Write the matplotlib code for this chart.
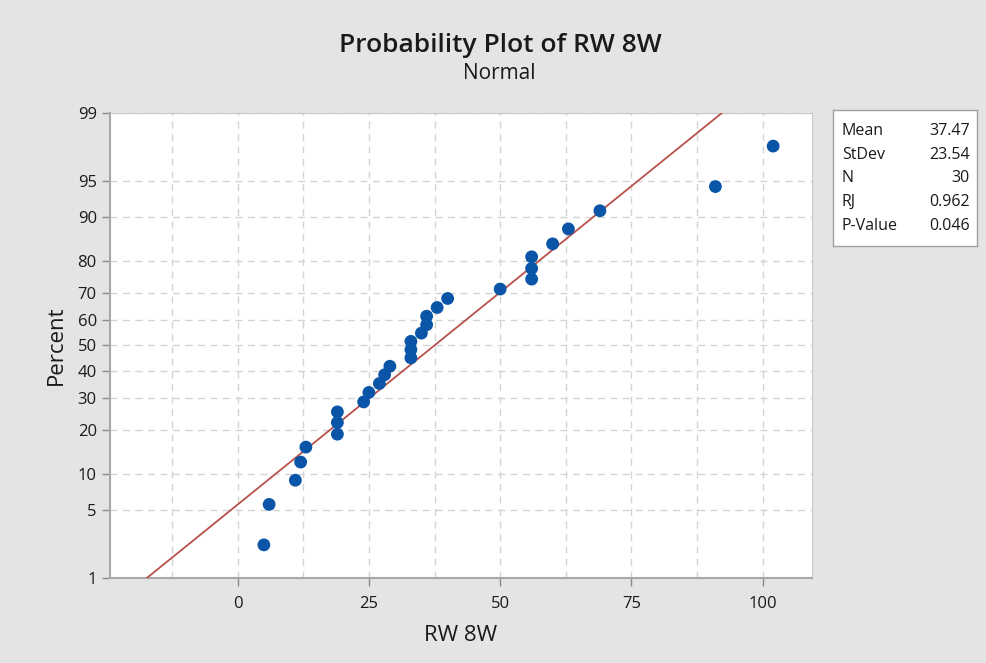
import numpy as np
import matplotlib
matplotlib.use("Agg")
import matplotlib.pyplot as plt
from statistics import NormalDist

rw_8w = [5, 6, 11, 12, 13, 19, 19, 19, 24, 25, 27, 28, 29, 33, 33, 33,
         35, 36, 36, 38, 40, 50, 56, 56, 56, 60, 63, 69, 91, 102]
stat_names = ["Mean", "StDev", "N", "RJ", "P-Value"]
stat_values = ["37.47", "23.54", "30", "0.962", "0.046"]
mean_fit = 37.47
sd_fit = 23.54
pct_ticks = [1, 5, 10, 20, 30, 40, 50, 60, 70, 80, 90, 95, 99]
x_ticks = [0, 25, 50, 75, 100]

nd = NormalDist()
z = lambda p: nd.inv_cdf(p / 100.0)

plt.rcParams["font.family"] = ["Open Sans", "DejaVu Sans"]
bg = "#e4e4e4"
txt = "#1a1a1a"
fig = plt.figure(figsize=(9.87, 6.63), dpi=100, facecolor=bg)
ax = fig.add_axes([0.1115, 0.1282, 0.7112, 0.7014])
ax.set_facecolor("white")

# Benard median ranks, as in Minitab
x = np.sort(np.array(rw_8w, dtype=float))
n = len(x)
ranks = [(i - 0.3) / (n + 0.4) * 100 for i in range(1, n + 1)]
zy = [z(p) for p in ranks]

# fitted normal line
zl = [z(1), z(99)]
xl = [mean_fit + sd_fit * v for v in zl]
ax.plot(xl, zl, color="#b9514b", lw=1.3, zorder=3)

ax.scatter(x, zy, s=85, color="#0a55a8", zorder=4, edgecolors="none")

ax.set_xlim(-24.3, 109.4)
ax.set_ylim(z(1), z(99))
ax.set_yticks([z(p) for p in pct_ticks])
ax.set_yticklabels([str(p) for p in pct_ticks])
ax.set_xticks(x_ticks)
ax.set_xticks([-12.5, 12.5, 37.5, 62.5, 87.5], minor=True)

ax.grid(True, which="both", color="#d4d4d4", linestyle=(0, (5, 4)), lw=1.0)
ax.set_axisbelow(True)
ax.tick_params(axis="both", which="major", colors="#8a8a8a", labelcolor=txt,
               labelsize=12, length=6, width=1.0)
ax.tick_params(axis="x", which="minor", length=0)
ax.tick_params(axis="x", pad=7)
for side in ["left", "bottom"]:
    ax.spines[side].set_color("#a8a8a8")
    ax.spines[side].set_linewidth(1.5)
for side in ["top", "right"]:
    ax.spines[side].set_color("#c8c8c8")
    ax.spines[side].set_linewidth(0.8)

ax.set_xlabel("RW 8W", fontsize=16, color=txt, labelpad=9, fontweight="medium")
ax.set_ylabel("Percent", fontsize=16, color=txt, labelpad=8, fontweight="medium")

fig.text(0.507, 0.931, "Probability Plot of RW 8W", ha="center", va="center",
         fontsize=19, color=txt, fontweight="semibold")
fig.text(0.506, 0.889, "Normal", ha="center", va="center",
         fontsize=15, color=txt, fontweight="medium")

# stats box
bx = fig.add_axes([833 / 987, 1 - 246 / 663, 144 / 987, 136 / 663])
bx.set_xlim(0, 1)
bx.set_ylim(0, 1)
bx.set_xticks([])
bx.set_yticks([])
bx.set_facecolor("white")
for s in bx.spines.values():
    s.set_color("#a0a0a0")
    s.set_linewidth(1.0)
for i, (nm, val) in enumerate(zip(stat_names, stat_values)):
    yy = 0.846 - i * 0.174
    bx.text(0.06, yy, nm, fontsize=11.5, va="center", ha="left", color=txt)
    bx.text(0.95, yy, val, fontsize=11.5, va="center", ha="right", color=txt)

fig.savefig("out.png", dpi=100, facecolor=bg)
